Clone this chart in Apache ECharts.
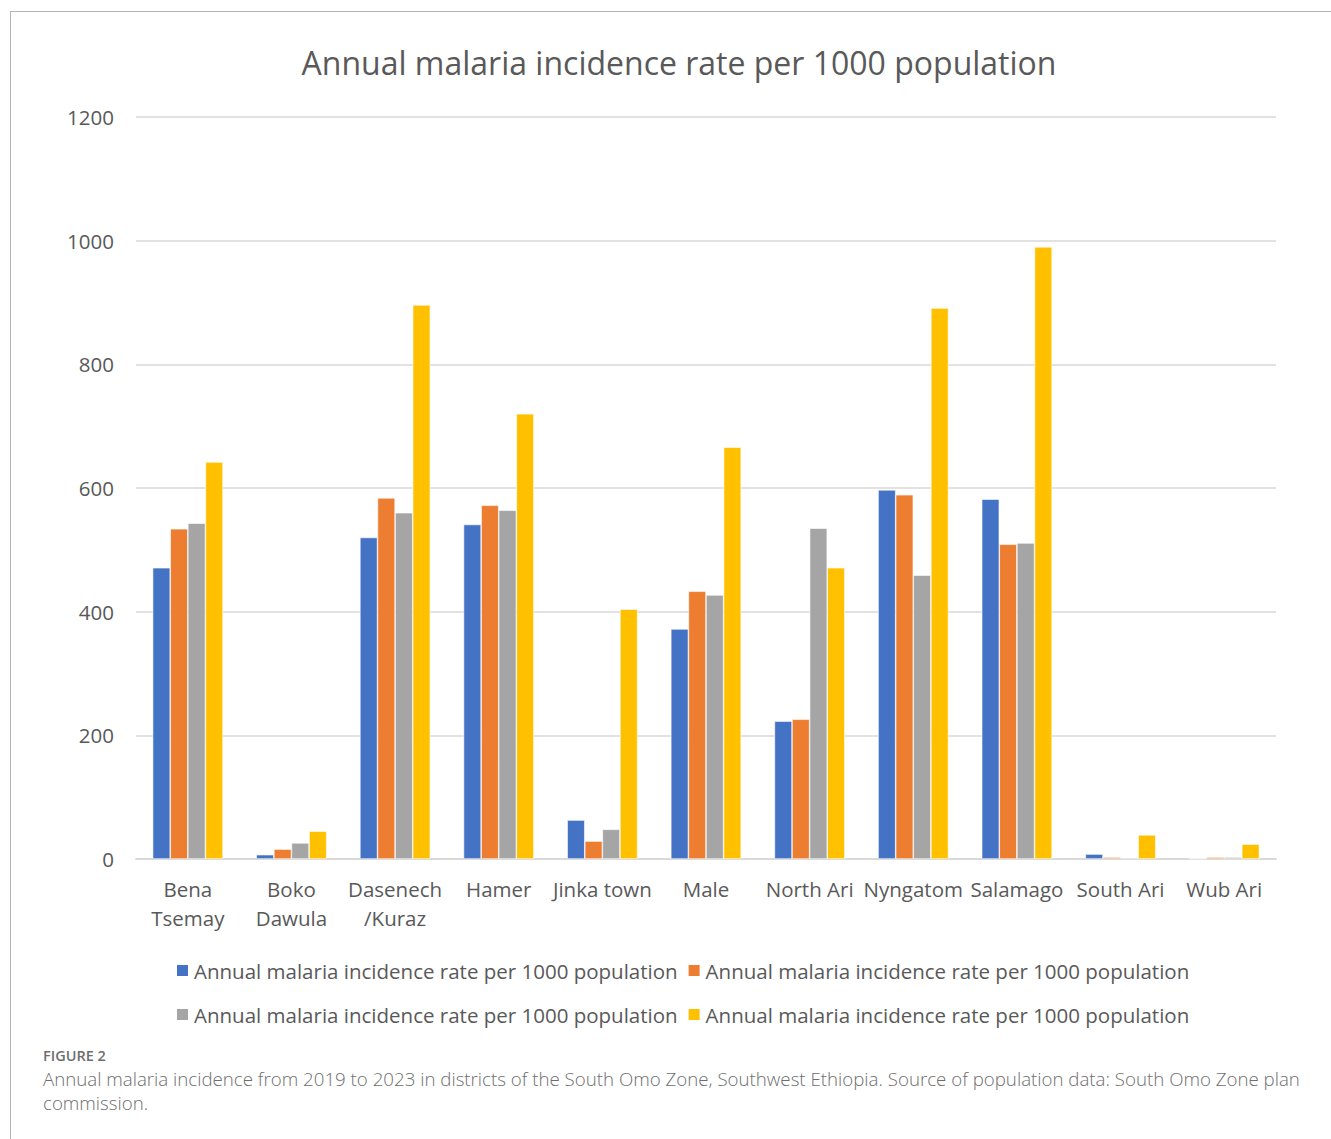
<!DOCTYPE html>
<html>
<head>
<meta charset="utf-8">
<script src="https://cdn.jsdelivr.net/npm/echarts@6/dist/echarts.min.js"></script>
<style>
  html, body { margin: 0; padding: 0; background: #fff; }
  #frame {
    position: absolute; left: 10px; top: 11px; width: 1340px; height: 1140px;
    border-left: 1px solid #b4b4b4; border-top: 1px solid #b4b4b4;
  }
  #chart { position: absolute; left: 0; top: 0; width: 1331px; height: 1040px; }
  #caption {
    position: absolute; left: 43px; top: 1045px; width: 1280px;
    font-family: "Open Sans", sans-serif; color: #6e6e6e;
  }
  #caption .fig { font-size: 14.5px; font-weight: 600; line-height: 22px; }
  #caption .txt { font-size: 18.7px; line-height: 24px; font-weight: 300; white-space: nowrap; }
</style>
</head>
<body>
<div id="frame"></div>
<div id="chart"></div>
<div id="caption">
  <div class="fig">FIGURE 2</div>
  <div class="txt">Annual malaria incidence from 2019 to 2023 in districts of the South Omo Zone, Southwest Ethiopia. Source of population data: South Omo Zone plan<br>commission.</div>
</div>
<script>
var districts = ['Bena\nTsemay', 'Boko\nDawula', 'Dasenech\n/Kuraz', 'Hamer', 'Jinka town', 'Male',
  'North Ari', 'Nyngatom', 'Salamago', 'South Ari', 'Wub Ari'];
var seriesKeys = ['s1', 's2', 's3', 's4'];
var seriesLabel = 'Annual malaria incidence rate per 1000 population';
var values1 = [471, 7, 520, 541, 63, 372, 223, 597, 582, 8, 1];
var values2 = [534, 16, 584, 572, 29, 433, 226, 589, 509, 3, 3];
var values3 = [543, 26, 560, 564, 48, 427, 535, 459, 511, 2, 3];
var values4 = [642, 45, 896, 720, 404, 666, 471, 891, 990, 39, 24];
var colors = ['#4472C4', '#ED7D31', '#A5A5A5', '#FFC000'];
var yTicks = [0, 200, 400, 600, 800, 1000, 1200];

(function() {
  var ink = '#595959';
  var rule = '#d9d9d9';
  var font = '"Open Sans", "Noto Sans", sans-serif';
  var allValues = [values1, values2, values3, values4];

  var chart = echarts.init(document.getElementById('chart'), null, { renderer: 'svg' });

  var series = seriesKeys.map(function(k, i) {
    return {
      name: k,
      type: 'bar',
      data: allValues[i],
      barWidth: 17.6,
      barGap: '0%',
      itemStyle: { color: colors[i], borderColor: '#ffffff', borderWidth: 0.6 }
    };
  });

  function legendAt(top, keys) {
    return {
      top: top,
      left: 170,
      data: keys,
      itemWidth: 13,
      itemHeight: 13,
      itemGap: 9,
      icon: 'rect',
      formatter: function() { return seriesLabel; },
      textStyle: { color: ink, fontSize: 20.5, fontFamily: font }
    };
  }

  chart.setOption({
    animation: false,
    color: colors,
    title: {
      text: 'Annual malaria incidence rate per 1000 population',
      left: 674,
      textAlign: 'center',
      top: 41,
      textStyle: { color: ink, fontSize: 32, fontWeight: 'normal', fontFamily: font }
    },
    tooltip: { trigger: 'axis', axisPointer: { type: 'shadow' } },
    legend: [legendAt(955, ['s1', 's2']), legendAt(999, ['s3', 's4'])],
    grid: { left: 136, top: 117, width: 1140, height: 742 },
    xAxis: {
      type: 'category',
      data: districts,
      axisLine: { lineStyle: { color: rule, width: 2 } },
      axisTick: { show: false },
      axisLabel: { color: ink, fontSize: 20.5, fontFamily: font, lineHeight: 29, margin: 15, interval: 0 }
    },
    yAxis: {
      type: 'value',
      min: yTicks[0],
      max: yTicks[yTicks.length - 1],
      interval: yTicks[1] - yTicks[0],
      axisLine: { show: false },
      axisTick: { show: false },
      axisLabel: {
        color: ink, fontSize: 20.5, fontFamily: font, margin: 22,
        formatter: function(v) { return String(v); }
      },
      splitLine: { lineStyle: { color: rule, width: 1.5 } }
    },
    series: series
  });
  window.addEventListener('resize', function() { chart.resize(); });
})();
</script>
</body>
</html>
